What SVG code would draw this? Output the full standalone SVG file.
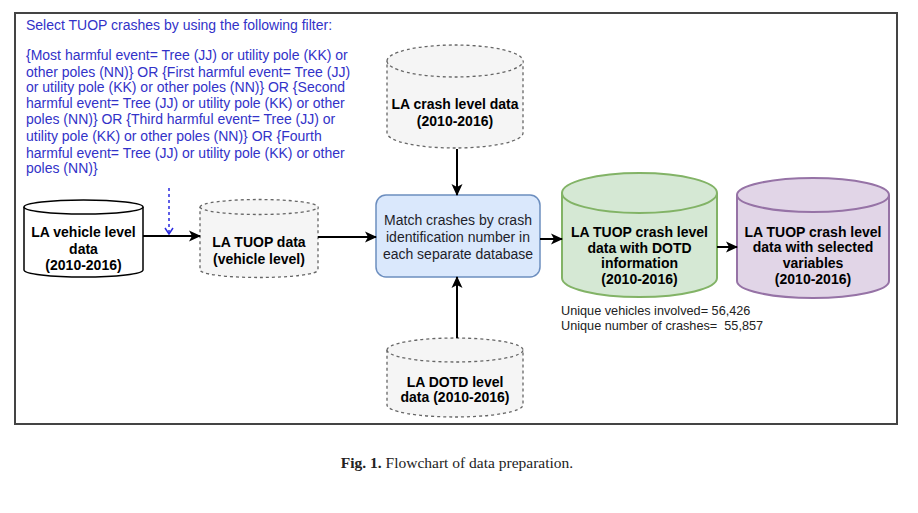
<svg xmlns="http://www.w3.org/2000/svg" width="918" height="513" viewBox="0 0 918 513">
<defs>
<marker id="ah" markerWidth="12" markerHeight="12" viewBox="0 0 12 12" refX="11" refY="6" orient="auto" markerUnits="userSpaceOnUse">
<path d="M0,0.5 L12,6 L0,11.5 L3,6 z" fill="#000"/>
</marker>
<marker id="ahb" markerWidth="10" markerHeight="10" viewBox="0 0 10 10" refX="5" refY="9" orient="0" markerUnits="userSpaceOnUse">
<path d="M1,3 L5,9 L9,3" fill="none" stroke="#2a2ae0" stroke-width="1.5"/>
</marker>
<style>
.b{font-family:"Liberation Sans",Arial,sans-serif;font-weight:bold;font-size:14px;fill:#000;text-anchor:middle}
.r{font-family:"Liberation Sans",Arial,sans-serif;font-size:14px;fill:#1e1e2a;text-anchor:middle}
.f{font-family:"Liberation Sans",Arial,sans-serif;font-size:14px;fill:#3232c8}
.s{font-family:"Liberation Sans",Arial,sans-serif;font-size:12.7px;fill:#222}
.solid{fill:#fff;stroke:#000;stroke-width:1.5}
.dash{fill:#f5f5f5;stroke:#666;stroke-width:1.3;stroke-dasharray:3 3}
.green{fill:#d5e8d4;stroke:#82b366;stroke-width:2}
.purple{fill:#e1d5e7;stroke:#9673a6;stroke-width:2}
.c{stroke:#000;stroke-width:2;fill:none;marker-end:url(#ah)}
</style>
</defs>
<rect x="0" y="0" width="918" height="513" fill="#fff"/>
<rect x="15" y="13" width="882" height="411" fill="#fff" stroke="#444" stroke-width="2"/>

<g id="filter">
<text class="f" x="26" y="30">Select TUOP crashes by using the following filter:</text>
<text class="f" x="26" y="60">{Most harmful event= Tree (JJ) or utility pole (KK) or</text>
<text class="f" x="26" y="77">other poles (NN)} OR {First harmful event= Tree (JJ)</text>
<text class="f" x="26" y="92">or utility pole (KK) or other poles (NN)} OR {Second</text>
<text class="f" x="26" y="108">harmful event= Tree (JJ) or utility pole (KK) or other</text>
<text class="f" x="26" y="124">poles (NN)} OR {Third harmful event= Tree (JJ) or</text>
<text class="f" x="26" y="141">utility pole (KK) or other poles (NN)} OR {Fourth</text>
<text class="f" x="26" y="158">harmful event= Tree (JJ) or utility pole (KK) or other</text>
<text class="f" x="26" y="173">poles (NN)}</text>
</g>

<g id="vehicle">
<path class="solid" d="M24,207 A59.5,7 0 0 1 143,207 V270 A59.5,7 0 0 1 24,270 Z"/>
<path class="solid" fill="none" d="M24,207 A59.5,7 0 0 0 143,207"/>
<text class="b" x="83.5" y="237">LA vehicle level</text>
<text class="b" x="83.5" y="254">data</text>
<text class="b" x="83.5" y="270">(2010-2016)</text>
</g>

<g id="tuopveh">
<path class="dash" d="M200,207 A59,7.5 0 0 1 318,207 V270 A59,7.5 0 0 1 200,270 Z"/>
<path class="dash" fill="none" d="M200,207 A59,7.5 0 0 0 318,207"/>
<text class="b" x="259" y="247">LA TUOP data</text>
<text class="b" x="259" y="264">(vehicle level)</text>
</g>

<g id="crash">
<path class="dash" d="M387,61 A68,16 0 0 1 523,61 V133 A68,15 0 0 1 387,133 Z"/>
<path class="dash" fill="none" d="M387,61 A68,16 0 0 0 523,61"/>
<text class="b" x="455" y="109">LA crash level data</text>
<text class="b" x="455" y="126">(2010-2016)</text>
</g>

<g id="match">
<rect x="376" y="195" width="164" height="82" rx="10" fill="#dae8fc" stroke="#6c8ebf" stroke-width="1.5"/>
<text class="r" x="458" y="225">Match crashes by crash</text>
<text class="r" x="458" y="242">identification number in</text>
<text class="r" x="458" y="259">each separate database</text>
</g>

<g id="dotd">
<path class="dash" d="M387,350 A68,12 0 0 1 523,350 V405 A68,12 0 0 1 387,405 Z"/>
<path class="dash" fill="none" d="M387,350 A68,12 0 0 0 523,350"/>
<text class="b" x="455" y="387">LA DOTD level</text>
<text class="b" x="455" y="402">data (2010-2016)</text>
</g>

<g id="green">
<path class="green" d="M562,193 A77.5,20 0 0 1 717,193 V278 A77.5,19 0 0 1 562,278 Z"/>
<path class="green" fill="none" d="M562,193 A77.5,20 0 0 0 717,193"/>
<text class="b" x="639.5" y="237">LA TUOP crash level</text>
<text class="b" x="639.5" y="253">data with DOTD</text>
<text class="b" x="639.5" y="268">information</text>
<text class="b" x="639.5" y="284">(2010-2016)</text>
</g>

<g id="purple">
<path class="purple" d="M737,195 A76,17 0 0 1 889,195 V281 A76,17 0 0 1 737,281 Z"/>
<path class="purple" fill="none" d="M737,195 A76,17 0 0 0 889,195"/>
<text class="b" x="813" y="237">LA TUOP crash level</text>
<text class="b" x="813" y="252">data with selected</text>
<text class="b" x="813" y="268">variables</text>
<text class="b" x="813" y="284">(2010-2016)</text>
</g>

<g id="stats">
<text class="s" x="561" y="314.5">Unique vehicles involved= 56,426</text>
<text class="s" x="561" y="329.5" xml:space="preserve">Unique number of crashes=  55,857</text>
</g>

<g id="connectors">
<line class="c" x1="143" y1="236" x2="200" y2="236"/>
<line x1="169" y1="188" x2="169" y2="234" stroke="#2a2ae0" stroke-width="1.5" stroke-dasharray="3 3" marker-end="url(#ahb)"/>
<line class="c" x1="318" y1="237" x2="376" y2="237"/>
<line class="c" x1="457" y1="149" x2="457" y2="195"/>
<line class="c" x1="457" y1="338" x2="457" y2="277"/>
<line class="c" x1="540" y1="239" x2="562" y2="239"/>
<line class="c" x1="717" y1="247" x2="737" y2="247"/>
</g>

<g id="caption">
<text x="457" y="468" text-anchor="middle" font-family="'Liberation Serif','Times New Roman',serif" font-size="15.5" fill="#222"><tspan font-weight="bold">Fig. 1.</tspan> Flowchart of data preparation.</text>
</g>
</svg>
